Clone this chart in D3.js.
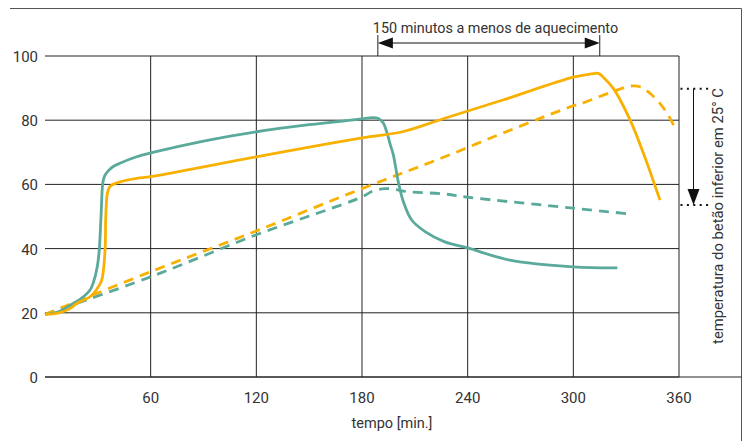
<!DOCTYPE html>
<html>
<head>
<meta charset="utf-8">
<script src="https://cdn.jsdelivr.net/npm/d3@7"></script>
<style>
  body { margin: 0; background: #fff; }
  text { font-family: Roboto, "DejaVu Sans", sans-serif; fill: #333; }
</style>
</head>
<body>
<div id="chart"></div>
<script>
var width = 744,
    height = 441;

// minutes / degrees C
var tealSolidT = [0, 8, 16, 21.8, 25.6, 27.4, 29.7, 30.8, 31.8, 32.8, 33.8, 35.9, 38.5, 42.6, 52, 60, 90, 120, 150, 180, 186, 189, 192, 194, 196, 197.8, 200.6, 203.5, 208.2, 215.8, 227, 240, 264, 300, 325];
var tealSolidV = [19.5, 20.4, 22.9, 25, 27.1, 29.3, 34.4, 39.6, 49.9, 60.3, 62.6, 64.2, 65.5, 66.6, 68.6, 69.8, 73.5, 76.4, 78.6, 80.4, 80.8, 80.6, 79.2, 76.4, 72.5, 69.2, 60.8, 54.6, 48.9, 45.3, 42.1, 40.2, 36.4, 34.3, 34.0];

var orangeSolidT = [0, 8, 14.2, 18, 25.6, 29, 32.2, 34.1, 34.5, 35.4, 36.5, 37.9, 42.6, 52.1, 60, 120, 180, 203, 227, 260, 300, 310, 314.2, 317, 322.7, 332.2, 339.8, 349.2];
var orangeSolidV = [19.5, 20, 21.3, 22.9, 25, 27, 30.2, 39.6, 49.9, 57.2, 59, 59.8, 60.8, 61.9, 62.4, 68.6, 74.5, 76.4, 80.6, 86.3, 93.4, 94.4, 94.6, 93.4, 89.9, 80.1, 69.7, 55.1];

var orangeDashT = [0, 60, 120, 180, 227, 260, 300, 306.6, 315, 322.5, 329, 334, 339, 343.5, 348, 352, 355, 358.3];
var orangeDashV = [19.5, 32.8, 45.5, 58.7, 68.6, 76, 84.5, 85.6, 87.4, 88.9, 90.2, 90.7, 90.2, 88.4, 86, 83.2, 80.5, 77];

var tealDashT = [0, 60, 120, 180, 186, 193, 199, 205, 227, 240, 300, 332];
var tealDashV = [19.5, 31.2, 44.3, 56.1, 57.9, 58.7, 58.4, 57.8, 57, 56, 52.6, 50.8];

var xTicks = [60, 120, 180, 240, 300, 360];
var yTicks = [0, 20, 40, 60, 80, 100];

var heatGap = [189, 315];          // minutes
var tempDrop = [89.8, 53.6];       // degrees
var gapLabel = '150 minutos a menos de aquecimento';
var dropLabel = 'temperatura do betão inferior em 25° C';
var xLabel = 'tempo [min.]';

var teal = '#5aaa9b',
    orange = '#f8b100';

var svg = d3.select('#chart').append('svg')
    .attr('width', width)
    .attr('height', height);

var x = d3.scaleLinear().domain([0, 360]).range([45, 679]);
var y = d3.scaleLinear().domain([0, 100]).range([377, 56]);

// frame
svg.append('path')
    .attr('d', 'M10,8.5H741.5V441')
    .attr('fill', 'none')
    .attr('stroke', '#555')
    .attr('stroke-width', 1);
svg.append('line')
    .attr('x1', x(0)).attr('x2', 741.5)
    .attr('y1', y(0)).attr('y2', y(0))
    .attr('stroke', '#222');

// grid
svg.append('g').selectAll('line').data(yTicks).enter().append('line')
    .attr('x1', x(0)).attr('x2', x(360))
    .attr('y1', function(d) {return y(d);})
    .attr('y2', function(d) {return y(d);})
    .attr('stroke', '#222');
svg.append('g').selectAll('line').data(xTicks).enter().append('line')
    .attr('x1', function(d) {return x(d);})
    .attr('x2', function(d) {return x(d);})
    .attr('y1', y(100)).attr('y2', y(0))
    .attr('stroke', '#222');

// tick labels
svg.append('g').selectAll('text').data(yTicks).enter().append('text')
    .attr('x', 38)
    .attr('y', function(d) {return y(d) + 6;})
    .attr('text-anchor', 'end')
    .style('font-size', '15px')
    .text(function(d) {return d;});
svg.append('g').selectAll('text').data(xTicks).enter().append('text')
    .attr('x', function(d) {return x(d);})
    .attr('y', 403)
    .attr('text-anchor', 'middle')
    .style('font-size', '15px')
    .text(function(d) {return d;});
svg.append('text')
    .attr('x', 392).attr('y', 428)
    .attr('text-anchor', 'middle')
    .style('font-size', '14.5px')
    .text(xLabel);

// curves
var line = d3.line()
    .x(function(d) {return x(d[0]);})
    .y(function(d) {return y(d[1]);})
    .curve(d3.curveCatmullRom.alpha(0.5));

function pairs(ts, vs) {
    return ts.map(function(t, i) {return [t, vs[i]];});
}

var series = [
    {pts: pairs(tealDashT, tealDashV), color: teal, dash: '10,7'},
    {pts: pairs(orangeDashT, orangeDashV), color: orange, dash: '10,7'},
    {pts: pairs(tealSolidT, tealSolidV), color: teal, dash: null},
    {pts: pairs(orangeSolidT, orangeSolidV), color: orange, dash: null}
];

svg.append('g').selectAll('path').data(series).enter().append('path')
    .attr('d', function(d) {return line(d.pts);})
    .attr('fill', 'none')
    .attr('stroke', function(d) {return d.color;})
    .attr('stroke-width', 2.8)
    .attr('stroke-dasharray', function(d) {return d.dash;});

// top annotation: heating gap
var ax1 = x(heatGap[0]), ax2 = x(heatGap[1]), ay = 43;
var gapG = svg.append('g');
gapG.selectAll('line.tick').data([ax1, ax2]).enter().append('line')
    .attr('x1', function(d) {return d;})
    .attr('x2', function(d) {return d;})
    .attr('y1', 35).attr('y2', y(100))
    .attr('stroke', '#222');
gapG.append('line')
    .attr('x1', ax1 + 10).attr('x2', ax2 - 10)
    .attr('y1', ay).attr('y2', ay)
    .attr('stroke', '#111');
gapG.append('path')
    .attr('d', 'M' + ax1 + ',' + ay + 'l15,-5.5v11z')
    .attr('fill', '#111');
gapG.append('path')
    .attr('d', 'M' + ax2 + ',' + ay + 'l-15,-5.5v11z')
    .attr('fill', '#111');
gapG.append('text')
    .attr('x', ax1 - 5).attr('y', 33)
    .style('font-size', '14.4px')
    .text(gapLabel);

// right annotation: temperature drop
var ry1 = y(tempDrop[0]), ry2 = y(tempDrop[1]), rx = 693.5;
var dropG = svg.append('g');
dropG.selectAll('line.dots').data([ry1, ry2]).enter().append('line')
    .attr('x1', 680.5).attr('x2', 709)
    .attr('y1', function(d) {return d;})
    .attr('y2', function(d) {return d;})
    .attr('stroke', '#111')
    .attr('stroke-width', 2)
    .attr('stroke-dasharray', '2,4.4');
dropG.append('line')
    .attr('x1', rx).attr('x2', rx)
    .attr('y1', ry1).attr('y2', ry2 - 12)
    .attr('stroke', '#111');
dropG.append('path')
    .attr('d', 'M' + rx + ',' + ry2 + 'l-6,-16h12z')
    .attr('fill', '#111');
dropG.append('text')
    .attr('transform', 'translate(722.5,216) rotate(-90)')
    .attr('text-anchor', 'middle')
    .style('font-size', '14.8px')
    .text(dropLabel);
</script>
</body>
</html>
